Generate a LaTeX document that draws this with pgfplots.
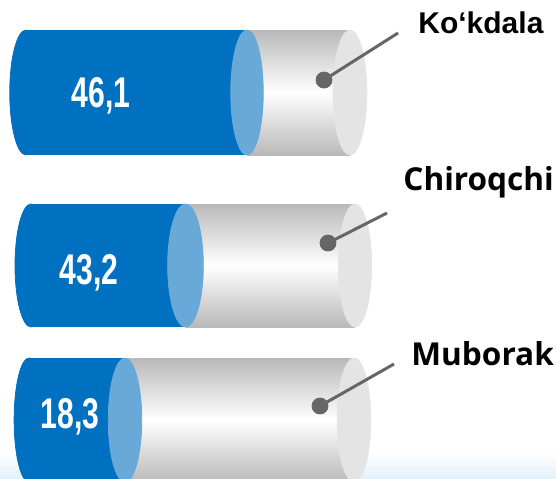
\documentclass[border=0pt]{standalone}
\usepackage{pgfplots}
\pgfplotsset{compat=1.18}
\usepackage{fontspec}
\setmainfont{Liberation Sans}
\newfontfamily\arialb{Liberation Sans}
\newfontfamily\segoe{Open Sans}
\definecolor{barblue}{HTML}{0070C0}
\definecolor{capblue}{HTML}{68A9D8}
\definecolor{bodygrey}{HTML}{B9B9B9}
\definecolor{endgrey}{HTML}{E4E4E4}
\definecolor{endgreyA}{HTML}{D6D6D6}
\definecolor{endgreyB}{HTML}{F2F2F2}
\definecolor{dotgrey}{HTML}{666666}
\definecolor{bgblue}{HTML}{E4F1FA}
\pgfplotsset{ell/.style={only marks, mark=*, color=#1, mark options={solid, draw=#1, fill=#1}},
  endcap/.style={only marks, mark=*, color=endgrey, mark options={solid, draw=none, top color=endgreyA, bottom color=endgreyA, middle color=endgreyB}}}
\begin{document}
\begin{tikzpicture}
\begin{axis}[
  scale only axis, width=278pt, height=239pt,
  xmin=0, xmax=556, ymin=0, ymax=478, y dir=reverse,
  hide axis, clip=false, clip marker paths=true,
]
% faint background band at the bottom
\addplot[draw=none, top color=white, bottom color=bgblue] coordinates {(0,452) (556,452) (556,478) (0,478)} -- cycle;

% ---------- Cylinder 1: Ko'kdala 46,1 ----------
\addplot[draw=none, top color=bodygrey, bottom color=bodygrey, middle color=white] coordinates {(247,30) (350,30) (350,155) (247,155)} -- cycle;
\addplot[endcap, mark size=31.25pt, mark options={xscale=0.27}] coordinates {(350,92.5)};
\addplot[draw=none, fill=barblue] coordinates {(26,30) (247,30) (247,155) (26,155)} -- cycle;
\addplot[ell=barblue, mark size=31.25pt, mark options={xscale=0.26}] coordinates {(26,92.5)};
\addplot[ell=capblue, mark size=31.25pt, mark options={xscale=0.26}] coordinates {(247,92.5)};
\addplot[dotgrey, line width=1.5pt] coordinates {(324,80) (398,33)};
\addplot[ell=dotgrey, mark size=4pt] coordinates {(324,80)};
\node[anchor=base, white, xscale=0.7, font=\arialb\bfseries\fontsize{21.5}{21}\selectfont] at (axis cs:101,107) {46,1};
\node[anchor=base west, black, font=\arialb\bfseries\fontsize{15}{15}\selectfont, inner sep=0pt] at (axis cs:418,33) {Ko‘kdala};

% ---------- Cylinder 2: Chiroqchi 43,2 ----------
\addplot[draw=none, top color=bodygrey, bottom color=bodygrey, middle color=white] coordinates {(185.5,204) (355,204) (355,327) (185.5,327)} -- cycle;
\addplot[endcap, mark size=30.75pt, mark options={xscale=0.27}] coordinates {(355,265.5)};
\addplot[draw=none, fill=barblue] coordinates {(31,204) (185.5,204) (185.5,327) (31,327)} -- cycle;
\addplot[ell=barblue, mark size=30.75pt, mark options={xscale=0.26}] coordinates {(31,265.5)};
\addplot[ell=capblue, mark size=30.75pt, mark options={xscale=0.29}] coordinates {(185.5,265.5)};
\addplot[dotgrey, line width=1.5pt] coordinates {(328,243) (387,213)};
\addplot[ell=dotgrey, mark size=4pt] coordinates {(328,243)};
\node[anchor=base, white, xscale=0.7, font=\arialb\bfseries\fontsize{21.5}{21}\selectfont] at (axis cs:89,284) {43,2};
\node[anchor=base west, black, font=\segoe\bfseries\fontsize{15.8}{16}\selectfont, inner sep=0pt] at (axis cs:403,190) {Chiroqchi};

% ---------- Cylinder 3: Muborak 18,3 ----------
\addplot[draw=none, top color=bodygrey, bottom color=bodygrey, middle color=white] coordinates {(125,358) (354,358) (354,482) (125,482)} -- cycle;
\addplot[endcap, mark size=31pt, mark options={xscale=0.27}] coordinates {(354,420)};
\addplot[draw=none, fill=barblue] coordinates {(29,358) (125,358) (125,482) (29,482)} -- cycle;
\addplot[ell=barblue, mark size=31pt, mark options={xscale=0.24}] coordinates {(29,420)};
\addplot[ell=capblue, mark size=31pt, mark options={xscale=0.27}] coordinates {(125,420)};
\addplot[dotgrey, line width=1.5pt] coordinates {(320,406) (394,364)};
\addplot[ell=dotgrey, mark size=4pt] coordinates {(320,406)};
\node[anchor=base, white, xscale=0.7, font=\arialb\bfseries\fontsize{21.5}{21}\selectfont] at (axis cs:70,428) {18,3};
\node[anchor=base west, black, font=\segoe\bfseries\fontsize{15.8}{16}\selectfont, inner sep=0pt] at (axis cs:411,365) {Muborak};
\end{axis}
\pgfresetboundingbox
\useasboundingbox (0,0) rectangle (278pt,239pt);
\end{tikzpicture}
\end{document}
